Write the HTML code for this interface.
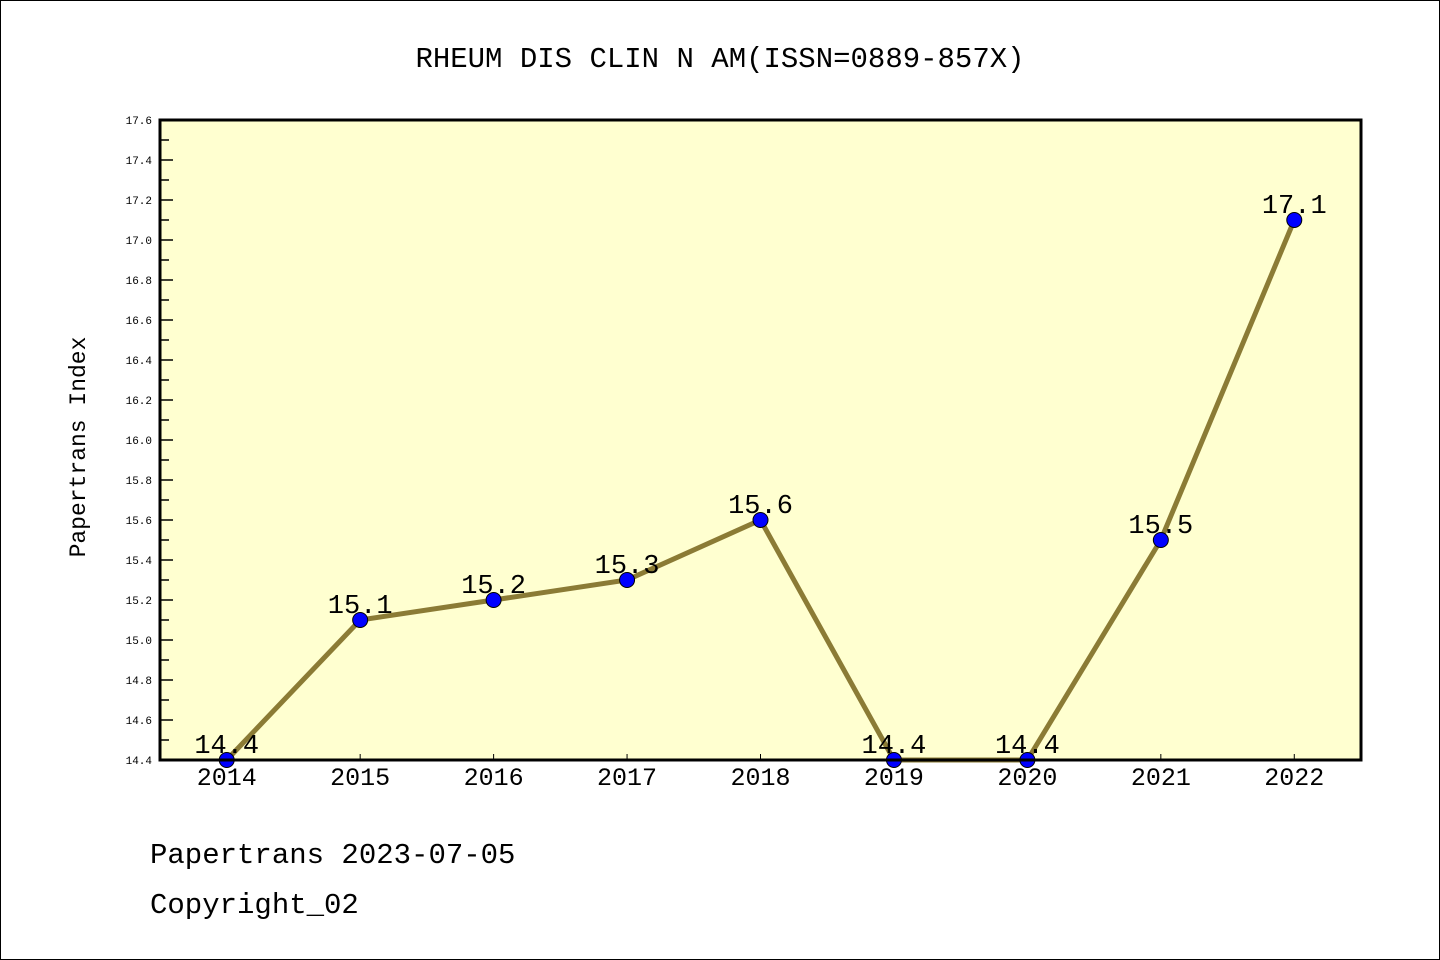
<!DOCTYPE html>
<html><head><meta charset="utf-8"><style>
html,body{margin:0;padding:0;background:#fff;}
svg{display:block;}
text{font-family:"Liberation Mono","WenQuanYi Zen Hei",monospace;}
</style></head><body>
<svg id="chart" width="1440" height="960">
<rect x="0.5" y="0.5" width="1439" height="959" fill="#fff" stroke="#000"/>
<text x="720" y="67" font-size="29" text-anchor="middle">RHEUM DIS CLIN N AM(ISSN=0889-857X)</text>
<rect x="160" y="120" width="1201" height="640" fill="#ffffd0"/>
<g id="yaxis"></g><g id="xaxis"></g>
<g id="series"></g>
<rect x="160" y="120" width="1201" height="640" fill="none" stroke="#000" stroke-width="3"/>
<text x="85" y="447" font-size="23" text-anchor="middle" transform="rotate(-90 85 447)">Papertrans Index</text>
<text x="150" y="863" font-size="29">Papertrans 2023-07-05</text>
<text x="150" y="913" font-size="29">Copyright_02</text>
</svg>
<script>
const years=[2014,2015,2016,2017,2018,2019,2020,2021,2022];
const values=[14.4,15.1,15.2,15.3,15.6,14.4,14.4,15.5,17.1];
const labels=["14.4","15.1","15.2","15.3","15.6","14.4","14.4","15.5","17.1"];
const yTicks=["14.4","14.6","14.8","15.0","15.2","15.4","15.6","15.8","16.0","16.2","16.4","16.6","16.8","17.0","17.2","17.4","17.6"];
const NS="http://www.w3.org/2000/svg";
const X0=160,X1=1361,Y0=760,Y1=120,ymin=14.4,ymax=17.6;
const xs=i=>X0+(i+0.5)*(X1-X0)/years.length;
const ys=v=>Y0-(v-ymin)/(ymax-ymin)*(Y0-Y1);
function mk(tag,at,parent){const e=document.createElementNS(NS,tag);for(const k in at)e.setAttribute(k,at[k]);parent.appendChild(e);return e;}
const ya=document.getElementById('yaxis'),xa=document.getElementById('xaxis'),sg=document.getElementById('series');
yTicks.forEach((t,i)=>{const v=parseFloat(t),y=ys(v);
 const l=mk('line',{x1:X0,x2:X0+13,y1:y,y2:y,stroke:'#000','stroke-width':1.5},ya);
 
 
 const tx=mk('text',{x:X0-8,y:y+4,'font-size':11,'text-anchor':'end'},ya);tx.textContent=t;
 
 
 if(i<yTicks.length-1){const ym=ys(v+0.1);
  const m=mk('line',{x1:X0,x2:X0+9,y1:ym,y2:ym,stroke:'#000','stroke-width':1.5},ya);
  
  }
});
years.forEach((yr,i)=>{const x=xs(i);
 const l=mk('line',{x1:x,x2:x,y1:Y0,y2:Y0-6,stroke:'#000','stroke-width':1},xa);
 
 
 const t=mk('text',{x:x,y:Y0+25,'font-size':25,'text-anchor':'middle'},xa);t.textContent=yr;
 
 
});
const pl=mk('polyline',{points:values.map((v,i)=>xs(i)+','+ys(v)).join(' '),fill:'none',stroke:'#8b7b35','stroke-width':5},sg);


values.forEach((v,i)=>{
 const c=mk('circle',{cx:xs(i),cy:ys(v),r:7.5,fill:'#0000ff',stroke:'#000','stroke-width':1},sg);
 
 
 const t=mk('text',{x:xs(i),y:ys(v)-7,'font-size':27,'text-anchor':'middle'},sg);t.textContent=labels[i];
 
 
});
</script>
</body></html>
